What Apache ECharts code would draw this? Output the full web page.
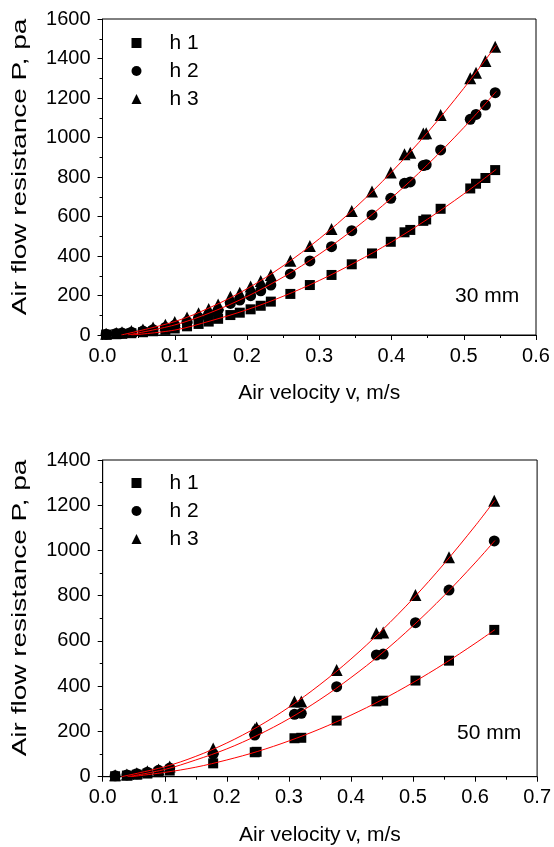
<!DOCTYPE html>
<html>
<head>
<meta charset="utf-8">
<script src="https://cdn.jsdelivr.net/npm/echarts@6/dist/echarts.min.js"></script>
<style>
html,body{margin:0;padding:0;background:#fff;}
#chart{width:554px;height:847px;}
</style>
</head>
<body>
<div id="chart"></div>
<script>
// ---------- data ----------
const seriesNames = ['h 1', 'h 2', 'h 3'];
const panelLabels = ['30 mm', '50 mm'];
const xTitle = 'Air velocity v, m/s';
const yTitle = 'Air flow resistance P, pa';

// 30 mm panel
const vTop  = [0.005,0.019,0.027,0.040,0.056,0.070,0.087,0.100,0.117,0.133,0.147,0.160,0.177,0.190,0.205,0.219,0.233,0.260,0.287,0.317,0.345,0.373,0.399,0.418,0.426,0.444,0.448,0.468,0.509,0.517,0.530,0.5435];
const h1Top = [2,4,6,9,14,19,26,33,44,56,68,82,101,113,130,148,169,208,253,304,358,413,472,520,532,578,585,639,742,766,795,835];
const h2Top = [4,7,10,14,20,27,38,50,68,88,105,125,160,177,199,224,253,309,375,447,528,608,692,768,775,858,862,937,1092,1117,1164,1227];
const h3Top = [6,10,14,20,28,38,52,66,88,110,132,155,194,214,245,273,304,376,451,537,628,726,823,915,923,1020,1022,1114,1300,1328,1387,1460];
const fit1Top = [[0.04,0],[0.1,25],[0.15,72],[0.2,128],[0.25,196],[0.3,276],[0.35,368],[0.4,471],[0.45,587],[0.5,714],[0.545,839]];
const fit2Top = [[0.035,0],[0.1,51],[0.15,114],[0.2,195],[0.25,293],[0.3,409],[0.35,542],[0.4,694],[0.45,863],[0.5,1050],[0.545,1233]];
const fit3Top = [[0.026,0],[0.1,68],[0.15,141],[0.2,234],[0.25,350],[0.3,487],[0.35,645],[0.4,825],[0.45,1026],[0.5,1249],[0.545,1467]];

// 50 mm panel
const vBot  = [0.020,0.039,0.055,0.072,0.090,0.108,0.178,0.245,0.248,0.309,0.320,0.377,0.441,0.452,0.504,0.558,0.631];
const h1Bot = [2,5,9,14,20,27,59,108,110,170,172,248,333,336,425,513,649];
const h2Bot = [4,8,13,20,28,38,100,184,205,276,280,398,538,542,681,825,1042];
const h3Bot = [6,10,15,24,32,45,125,210,218,332,332,472,634,637,803,970,1220];
const fit1Bot = [[0.045,0],[0.1,19],[0.15,42],[0.2,74],[0.25,112],[0.3,158],[0.35,211],[0.4,272],[0.45,340],[0.5,416],[0.55,499],[0.6,589],[0.632,650]];
const fit2Bot = [[0.04,0],[0.1,32],[0.15,74],[0.2,123],[0.25,184],[0.3,256],[0.35,341],[0.4,438],[0.45,546],[0.5,667],[0.55,800],[0.6,945],[0.632,1044]];
const fit3Bot = [[0.03,0],[0.1,44],[0.15,90],[0.2,149],[0.25,221],[0.3,307],[0.35,407],[0.4,520],[0.45,647],[0.5,787],[0.55,941],[0.6,1108],[0.632,1222]];

// ---------- chart ----------
const FONT = 'Liberation Sans, Arial, Helvetica, sans-serif';
const pair = (xs, ys) => xs.map((x, i) => [x, ys[i]]);
const SYM = ['rect', 'circle', 'triangle'];
const SYMSIZE = [10, 11, 12];

function xAxisCfg(gi, max) {
  return {
    gridIndex: gi, type: 'value', min: 0, max: max, interval: 0.1,
    name: xTitle, nameLocation: 'middle', nameGap: 48,
    nameTextStyle: {fontSize: 21, color: '#000', fontFamily: FONT},
    axisLine: {lineStyle: {color: '#000', width: 1}},
    axisTick: {inside: false, length: 5, lineStyle: {color: '#000'}},
    minorTick: {show: true, splitNumber: 2, length: 3, lineStyle: {color: '#000'}},
    splitLine: {show: false},
    axisLabel: {fontSize: 20, color: '#000', fontFamily: FONT, margin: 11,
      formatter: v => v.toFixed(1)}
  };
}
function yAxisCfg(gi, max) {
  return {
    gridIndex: gi, type: 'value', min: 0, max: max, interval: 200,
    axisLine: {lineStyle: {color: '#000', width: 1}},
    axisTick: {inside: false, length: 5, lineStyle: {color: '#000'}},
    minorTick: {show: true, splitNumber: 2, length: 3, lineStyle: {color: '#000'}},
    splitLine: {show: false},
    axisLabel: {fontSize: 20, color: '#000', fontFamily: FONT, margin: 12,
      formatter: v => String(v)}
  };
}
function legendCfg(top) {
  return {
    orient: 'vertical', left: 126.5, top: top,
    itemWidth: 10, itemHeight: 10, itemGap: 7,
    textStyle: {fontSize: 21, color: '#000', fontFamily: FONT, lineHeight: 20, padding: [0, 0, 0, 23]},
    data: seriesNames.map((n, i) => ({name: n, icon: SYM[i]})),
    selectedMode: false
  };
}

const pointsTop = [h1Top, h2Top, h3Top];
const pointsBot = [h1Bot, h2Bot, h3Bot];
const fitsTop = [fit1Top, fit2Top, fit3Top];
const fitsBot = [fit1Bot, fit2Bot, fit3Bot];

const series = [];
[[pointsTop, vTop, 0], [pointsBot, vBot, 1]].forEach(([pts, vs, gi]) => {
  pts.forEach((ys, i) => {
    series.push({
      name: seriesNames[i], type: 'scatter', xAxisIndex: gi, yAxisIndex: gi,
      symbol: SYM[i], symbolSize: SYMSIZE[i],
      itemStyle: {color: '#000', opacity: 1}, data: pair(vs, ys), z: 2
    });
  });
});
[[fitsTop, 0], [fitsBot, 1]].forEach(([fits, gi]) => {
  fits.forEach((f) => {
    series.push({
      type: 'line', xAxisIndex: gi, yAxisIndex: gi, data: f,
      smooth: 0.35, symbol: 'none', lineStyle: {color: '#ff0000', width: 1},
      z: 3, silent: true
    });
  });
});

function yTitleGraphic(cy) {
  return {
    type: 'text', x: 20, y: cy, rotation: Math.PI / 2, scaleX: 1.4, scaleY: 1,
    style: {text: yTitle, font: '20px ' + FONT, fill: '#000', align: 'center', verticalAlign: 'middle'}
  };
}

const chart = echarts.init(document.getElementById('chart'), null, {renderer: 'canvas'});
chart.setOption({
  animation: false,
  backgroundColor: '#fff',
  grid: [
    {left: 102.5, top: 19, width: 433.5, height: 316, show: true, borderColor: '#000', borderWidth: 1, backgroundColor: 'transparent'},
    {left: 102.7, top: 460, width: 435, height: 316.7, show: true, borderColor: '#000', borderWidth: 1, backgroundColor: 'transparent'}
  ],
  xAxis: [xAxisCfg(0, 0.6), xAxisCfg(1, 0.7)],
  yAxis: [yAxisCfg(0, 1600), yAxisCfg(1, 1400)],
  legend: [legendCfg(27.5), legendCfg(467.5)],
  graphic: [
    yTitleGraphic(167),
    yTitleGraphic(608),
    {type: 'text', x: 455, y: 296, style: {text: panelLabels[0], font: '21px ' + FONT, fill: '#000', verticalAlign: 'middle'}},
    {type: 'text', x: 457, y: 733, style: {text: panelLabels[1], font: '21px ' + FONT, fill: '#000', verticalAlign: 'middle'}}
  ],
  series: series
});
</script>
</body>
</html>
